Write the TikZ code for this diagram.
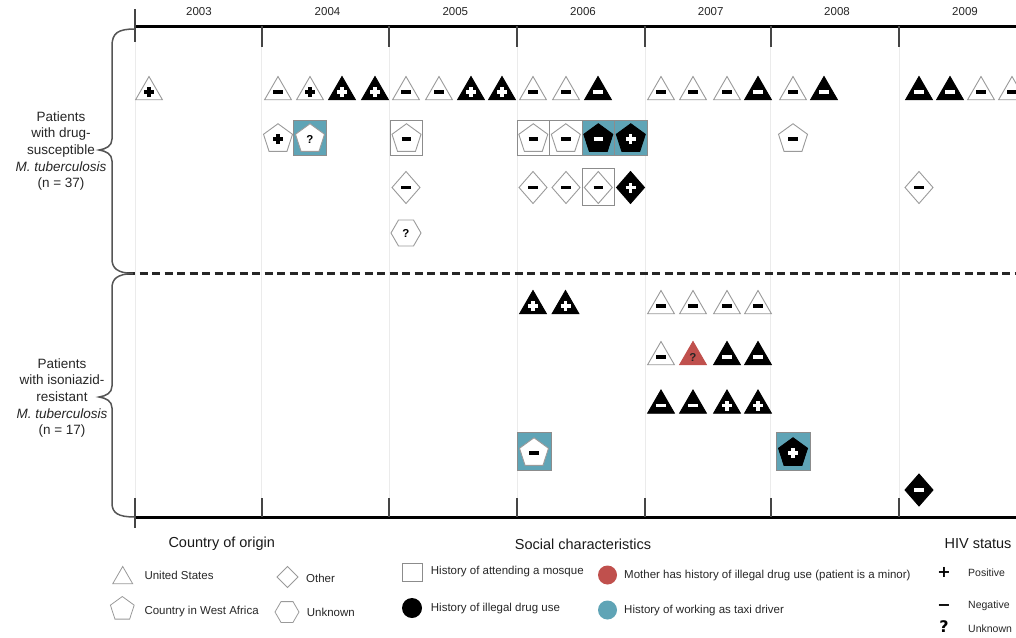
\documentclass[tikz,border=0pt]{standalone}
\usepackage{fontspec}
\setmainfont{Liberation Sans}
\newfontfamily\dejavu{DejaVu Sans}
\usetikzlibrary{shapes.geometric}
\definecolor{taxi}{HTML}{5FA4B6}
\definecolor{mred}{HTML}{C0504D}
\definecolor{sgray}{HTML}{9A9A9A}
\definecolor{bgray}{HTML}{8C8C8C}
\definecolor{gridc}{HTML}{EBEBEB}
\definecolor{tickc}{HTML}{454545}
\definecolor{bracec}{HTML}{555555}
\newcommand\pls{\makebox[0pt]{\rule{3.2pt}{10pt}}\makebox[0pt]{\raisebox{3.4pt}{\rule{10pt}{3.2pt}}}}
\newcommand\mns{\rule{9.5pt}{3.4pt}}
\newcommand\unk{{\fontsize{11.5}{11.5}\selectfont\bfseries ?}}
\newcommand\sy[5]{\node[#1] (#2) at (#3,#4) {#5};}
\tikzset{
  base/.style={inner sep=0pt, outer sep=0pt, line width=0.9pt},
  otri/.style={base, regular polygon, regular polygon sides=3, minimum size=31pt, draw=sgray, fill=white, text=black},
  ftri/.style={otri, draw=black, fill=black, text=white},
  rtri/.style={otri, draw=mred, fill=mred, text=black!85},
  opent/.style={base, regular polygon, regular polygon sides=5, minimum size=30.5pt, draw=sgray, fill=white, text=black},
  fpent/.style={opent, draw=black, fill=black, text=white},
  odia/.style={base, diamond, minimum width=28pt, minimum height=32pt, draw=sgray, fill=white, text=black},
  fdia/.style={odia, draw=black, fill=black, text=white},
  ohex/.style={base, regular polygon, regular polygon sides=6, minimum size=30pt, draw=sgray, fill=white, text=black},
  mbox/.style={base, rectangle, minimum width=32.5pt, minimum height=35pt, draw=bgray, line width=0.7pt, fill=white},
  tbox/.style={mbox, fill=taxi},
  gridline/.style={draw=gridc, line width=0.8pt},
  axis/.style={draw=black, line width=3pt},
  tk/.style={draw=tickc, line width=1.8pt},
  bracel/.style={draw=bracec, line width=1.5pt},
  year/.style={font=\fontsize{11.5}{13}\selectfont, text=black!85},
  grp/.style={align=center, font=\fontsize{13.5}{16.7}\selectfont, text=black!85},
  lhead/.style={font=\fontsize{14.5}{16}\selectfont, text=black!90},
  litem/.style={anchor=west, inner sep=0pt, font=\fontsize{11.5}{13}\selectfont, text=black!85},
  hitem/.style={anchor=west, inner sep=0pt, font=\fontsize{10.5}{12}\selectfont, text=black!85},
  hsign/.style={inner sep=0pt, font=\dejavu\bfseries\fontsize{16}{16}\selectfont},
  lgo/.style={base, draw=sgray, fill=white, line width=0.8pt},
}
\begin{document}
\begin{tikzpicture}[x=1pt, y=-1pt]
\clip (0,0) rectangle (1016,637);
% grid
\foreach \x in {135,261.7,389,517.3,645,770.7,899.3} \draw[gridline] (\x,26) -- (\x,498);
% axes
\draw[axis] (135,26) -- (1016,26);
\draw[axis] (135,517) -- (1016,517);
\draw[tk] (135,9) -- (135,42);
\foreach \x in {261.7,389,517.3,645,770.7,899.3} \draw[tk] (\x,26) -- (\x,47);
\draw[tk] (135,498) -- (135,528);
\foreach \x in {261.7,389,517.3,645,770.7,899.3} \draw[tk] (\x,498) -- (\x,517);
% dashed separator
\draw[draw=black!85, line width=2.3pt, dash pattern=on 8pt off 4.5pt] (127,273.5) -- (1016,273.5);
% braces
\draw[bracel] (135,29) .. controls (118,29) and (112,33) .. (112,46) -- (112,139)
  .. controls (112,146) and (106,149) .. (99,150) .. controls (106,151) and (112,154) .. (112,161)
  -- (112,259) .. controls (112,268) and (117,273) .. (133,273.5);
\draw[bracel] (133,273.5) .. controls (117,274) and (112,279) .. (112,288) -- (112,386)
  .. controls (112,393) and (106,396) .. (99,397) .. controls (106,398) and (112,401) .. (112,408)
  -- (112,503) .. controls (112,513) and (118,517) .. (135,517);
% years
\node[year] (y03) at (199,12) {2003};
\node[year] (y04) at (327.5,12) {2004};
\node[year] (y05) at (455.3,12) {2005};
\node[year] (y06) at (583,12) {2006};
\node[year] (y07) at (710.7,12) {2007};
\node[year] (y08) at (837,12) {2008};
\node[year] (y09) at (965,12) {2009};
% group labels
\node[grp] (g1) at (61,151) {Patients\\with drug-\\susceptible\\\textit{M. tuberculosis}\\(n = 37)};
\node[grp] (g2) at (62,398) {Patients\\with isoniazid-\\resistant\\\textit{M. tuberculosis}\\(n = 17)};
% ---------- upper group ----------
% row 1 triangles
\sy{otri}{ua1}{149}{92}{\pls}
\sy{otri}{ub1}{278}{92}{\mns}
\sy{otri}{ub2}{310}{92}{\pls}
\sy{ftri}{ub3}{342}{92}{\pls}
\sy{ftri}{ub4}{375}{92}{\pls}
\sy{otri}{uc1}{406}{92}{\mns}
\sy{otri}{uc2}{439}{92}{\mns}
\sy{ftri}{uc3}{471}{92}{\pls}
\sy{ftri}{uc4}{502}{92}{\pls}
\sy{otri}{ud1}{533}{92}{\mns}
\sy{otri}{ud2}{566}{92}{\mns}
\sy{ftri}{ud3}{598}{92}{\mns}
\sy{otri}{ue1}{661}{92}{\mns}
\sy{otri}{ue2}{693}{92}{\mns}
\sy{otri}{ue3}{727}{92}{\mns}
\sy{ftri}{ue4}{758}{92}{\mns}
\sy{otri}{uf1}{793}{92}{\mns}
\sy{ftri}{uf2}{824}{92}{\mns}
\sy{ftri}{ug1}{919}{92}{\mns}
\sy{ftri}{ug2}{950}{92}{\mns}
\sy{otri}{ug3}{981}{92}{\mns}
\sy{otri}{ug4}{1012}{92}{\mns}
% row 2 pentagons with boxes
\node[tbox] (bx1) at (310,137.5) {};
\node[mbox] (bx2) at (406.5,137.5) {};
\node[mbox] (bx3) at (533.3,137.5) {};
\node[mbox] (bx4) at (565.8,137.5) {};
\node[tbox] (bx5) at (598.3,137.5) {};
\node[tbox] (bx6) at (630.8,137.5) {};
\sy{opent}{up1}{278}{139}{\pls}
\sy{opent}{up2}{310}{139}{\unk}
\sy{opent}{up3}{406.5}{139}{\mns}
\sy{opent}{up4}{533.3}{139}{\mns}
\sy{opent}{up5}{565.8}{139}{\mns}
\sy{fpent}{up6}{598.3}{139}{\mns}
\sy{fpent}{up7}{630.8}{139}{\pls}
\sy{opent}{up8}{793}{139}{\mns}
% row 3 diamonds
\node[mbox, minimum height=37pt] (bx7) at (598.3,187) {};
\sy{odia}{ud4}{406}{187.5}{\mns}
\sy{odia}{ud5}{533}{187.5}{\mns}
\sy{odia}{ud6}{566}{187.5}{\mns}
\sy{odia}{ud7}{598.3}{187.5}{\mns}
\sy{fdia}{ud8}{630.5}{187.5}{\pls}
\sy{odia}{ud9}{919}{187.5}{\mns}
% row 4 hexagon
\sy{ohex}{uh1}{406}{233}{\unk}
% ---------- lower group ----------
\sy{ftri}{la1}{533}{306}{\pls}
\sy{ftri}{la2}{565.5}{306}{\pls}
\sy{otri}{la3}{661}{306}{\mns}
\sy{otri}{la4}{693}{306}{\mns}
\sy{otri}{la5}{727}{306}{\mns}
\sy{otri}{la6}{758}{306}{\mns}
\sy{otri}{lb1}{661}{357}{\mns}
\sy{rtri}{lb2}{693}{357}{\unk}
\sy{ftri}{lb3}{727}{357}{\mns}
\sy{ftri}{lb4}{758}{357}{\mns}
\sy{ftri}{lc1}{661}{405.5}{\mns}
\sy{ftri}{lc2}{693}{405.5}{\mns}
\sy{ftri}{lc3}{727}{405.5}{\pls}
\sy{ftri}{lc4}{758}{405.5}{\pls}
\node[tbox, minimum width=34pt, minimum height=38pt] (bx8) at (534,451.7) {};
\node[tbox, minimum width=34pt, minimum height=38pt] (bx9) at (793,451.7) {};
\sy{opent}{lp1}{534}{453}{\mns}
\sy{fpent}{lp2}{793}{453}{\pls}
\sy{fdia}{ld1}{919}{490}{\mns}
% ---------- legend ----------
\node[lhead] (hco) at (221.7,544) {Country of origin};
\node[lhead] (hsc) at (583,544) {Social characteristics};
\node[lhead] (hhiv) at (978,544) {HIV status};
\node[lgo, regular polygon, regular polygon sides=3, minimum size=23.1pt] (lgt) at (122.7,578) {};
\node[litem] (lgtt) at (144.3,575.7) {United States};
\node[lgo, diamond, minimum width=21pt, minimum height=21pt] (lgd) at (287.5,577) {};
\node[litem] (lgdt) at (306,578) {Other};
\node[lgo, regular polygon, regular polygon sides=5, minimum size=25pt] (lgp) at (122.3,609) {};
\node[litem] (lgpt) at (144.3,611.7) {Country in West Africa};
\node[lgo, regular polygon, regular polygon sides=6, minimum size=24pt] (lgh) at (287,612) {};
\node[litem] (lght) at (306.7,612.7) {Unknown};
\node[lgo, rectangle, minimum width=20pt, minimum height=18pt, draw=bgray] (lgs) at (412,572.5) {};
\node[litem] (lgst) at (430.7,571.7) {History of attending a mosque};
\node[base, circle, fill=black, minimum size=20pt] (lgc1) at (412,608) {};
\node[litem] (lgc1t) at (430.7,608.3) {History of illegal drug use};
\node[base, circle, fill=mred, minimum size=19pt] (lgc2) at (607.5,575) {};
\node[litem] (lgc2t) at (624,576) {Mother has history of illegal drug use (patient is a minor)};
\node[base, circle, fill=taxi, minimum size=19pt] (lgc3) at (607.5,610) {};
\node[litem] (lgc3t) at (624,611) {History of working as taxi driver};
\node[hsign] (sp) at (944,572) {+};
\node[hitem] (spt) at (968,572.5) {Positive};
\node[hsign] (sm) at (944,608) {−};
\node[hitem] (smt) at (968,606) {Negative};
\node[hsign] (su) at (944,627) {?};
\node[hitem] (sut) at (968,629) {Unknown};
\end{tikzpicture}
\end{document}
